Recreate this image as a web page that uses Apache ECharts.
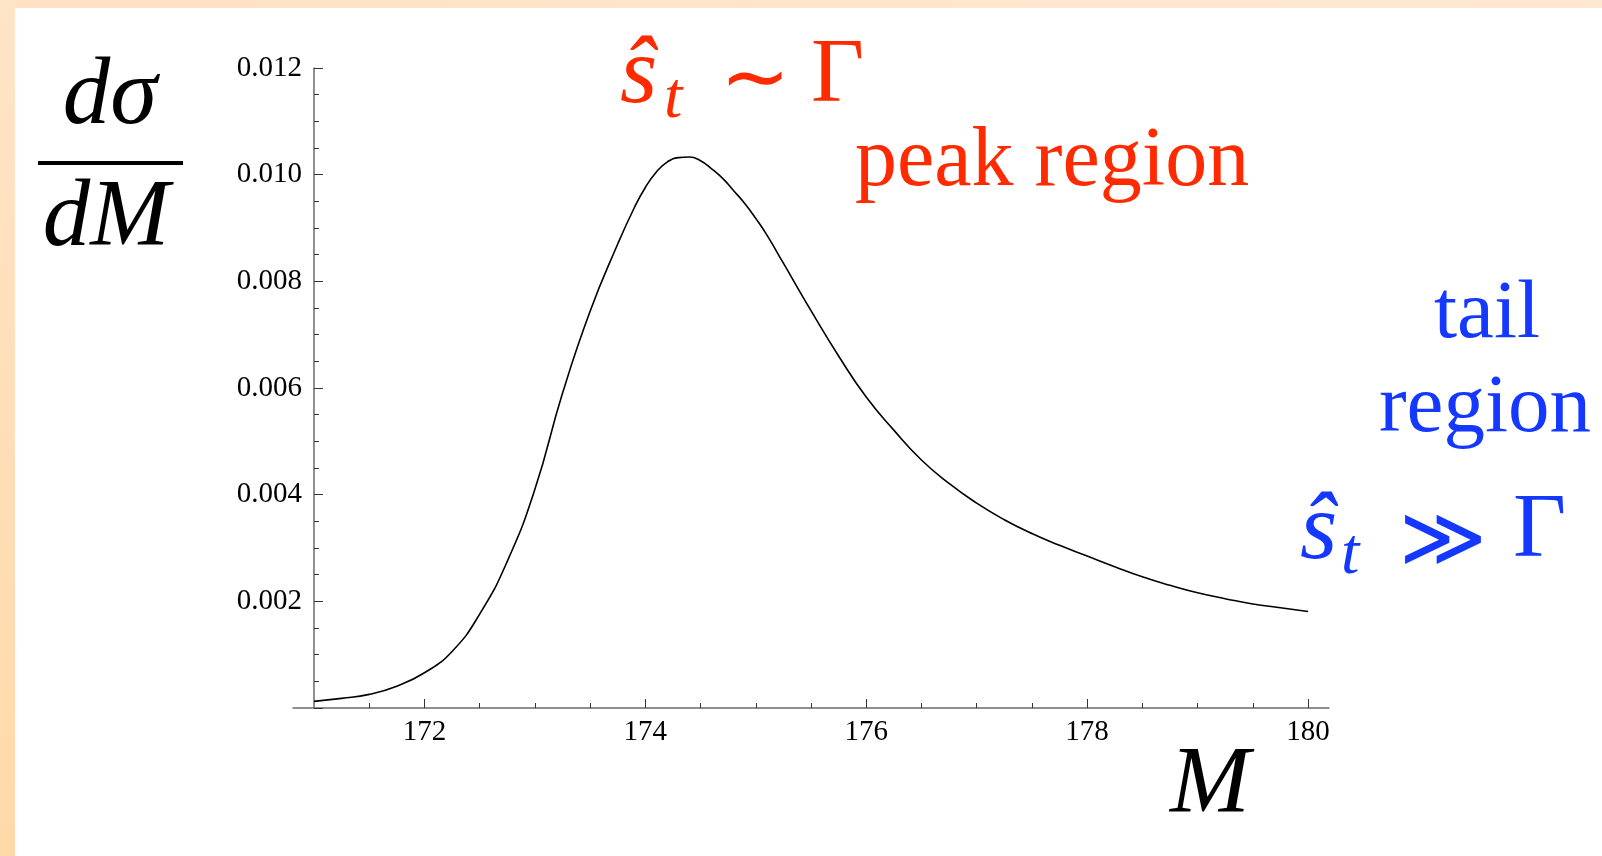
<!DOCTYPE html>
<html>
<head>
<meta charset="utf-8">
<script src="https://cdn.jsdelivr.net/npm/echarts@6/dist/echarts.min.js"></script>
<style>
  html, body { margin: 0; padding: 0; background: #ffffff; }
  #chart { width: 1602px; height: 856px; }
</style>
</head>
<body>
<div id="chart"></div>
<script>
// Invariant-mass distribution dσ/dM around the top peak
const massValues = [171, 171.25, 171.5, 171.75, 172, 172.25, 172.5, 172.75, 173, 173.25,
  173.5, 173.75, 173.9, 174, 174.1, 174.2, 174.3, 174.4, 174.5, 174.6,
  174.7, 174.8, 174.9, 175, 175.1, 175.25, 175.5, 175.75, 176, 176.25, 176.5,
  176.75, 177, 177.25, 177.5, 177.75, 178, 178.25, 178.5, 178.75, 179,
  179.25, 179.5, 179.75, 180];
const crossSection = [0.000125, 0.00018, 0.000255, 0.00041, 0.00066, 0.00106, 0.00176, 0.00275, 0.0041, 0.0059,
  0.00744, 0.0087, 0.00938, 0.00976, 0.01005, 0.01024, 0.01032, 0.01033, 0.01026, 0.01011,
  0.00993, 0.0097, 0.00946, 0.00918, 0.00887, 0.00834, 0.00745, 0.0066, 0.00583, 0.00521, 0.00465,
  0.00421, 0.00384, 0.00353, 0.00327, 0.00305, 0.00285, 0.00265, 0.00246, 0.0023, 0.00216,
  0.00205, 0.00195, 0.00188, 0.00181];

const xMajorTicks = [172, 174, 176, 178, 180];
const xMinorTicks = [171.5, 172.5, 173, 173.5, 174.5, 175, 175.5, 176.5, 177, 177.5, 178.5, 179, 179.5];
const yMin = 0, yMax = 0.012, yStep = 0.002;

const xStart = 171, xEnd = 180, xPad = 0.19;
const W = 1602, H = 856;
const grid = { left: 293, right: 273, top: 68, bottom: 148 };
const gridWidth = W - grid.left - grid.right;
// y axis sits at M = 171, inside the padded x range
const yAxisOffset = -(xPad / (xEnd - xStart + 2 * xPad)) * gridWidth;

const serif = 'Liberation Serif';
const red = '#ff2a00';
const blue = '#1438ff';
const axisGray = '#6b6b6b';

function txt(text, x, y, size, color, opts) {
  opts = opts || {};
  return {
    type: 'text', x: x, y: y, z: 10,
    style: {
      text: text, fill: color,
      fontSize: size,
      fontFamily: opts.family || serif,
      fontStyle: opts.italic ? 'italic' : 'normal',
      fontWeight: 'normal',
      align: opts.align || 'left', verticalAlign: 'middle'
    }
  };
}

const chart = echarts.init(document.getElementById('chart'), null, { renderer: 'canvas' });

chart.setOption({
  animation: false,
  backgroundColor: '#ffffff',
  grid: grid,
  xAxis: [
    {
      type: 'value', min: xStart - xPad, max: xEnd + xPad,
      position: 'bottom',
      axisLine: { show: true, onZero: true, onZeroAxisIndex: 0, lineStyle: { color: axisGray, width: 1.5 } },
      axisTick: { show: true, inside: true, length: 9, customValues: xMajorTicks, lineStyle: { color: '#333', width: 1 } },
      axisLabel: { show: true, customValues: xMajorTicks, margin: 10, color: '#000', fontFamily: serif, fontSize: 29,
        formatter: v => String(Math.round(v)) },
      splitLine: { show: false }
    },
    {
      type: 'value', min: xStart - xPad, max: xEnd + xPad,
      position: 'top',
      axisLine: { show: false, onZero: true, onZeroAxisIndex: 0 },
      axisTick: { show: true, inside: false, length: 5, customValues: xMinorTicks, lineStyle: { color: '#333', width: 1 } },
      axisLabel: { show: false },
      splitLine: { show: false }
    }
  ],
  yAxis: {
    type: 'value', min: yMin, max: yMax, interval: yStep,
    offset: yAxisOffset,
    axisLine: { show: true, onZero: false, lineStyle: { color: axisGray, width: 1.5 } },
    axisTick: { show: true, inside: true, length: 9, lineStyle: { color: '#333', width: 1 } },
    minorTick: { show: true, splitNumber: 4, length: 5, lineStyle: { color: '#333', width: 1 } },
    axisLabel: { margin: 12, color: '#000', fontFamily: serif, fontSize: 29,
      formatter: v => (v === 0 ? '' : v.toFixed(3)) },
    splitLine: { show: false },
    minorSplitLine: { show: false }
  },
  series: [{
    type: 'line',
    xAxisIndex: 0, yAxisIndex: 0,
    data: massValues.map((m, i) => [m, crossSection[i]]),
    showSymbol: false,
    smooth: 0.5,
    lineStyle: { color: '#000', width: 1.6 },
    silent: true
  }],
  graphic: [
    // peach frame bands
    { type: 'rect', z: 0, shape: { x: 0, y: 0, width: W, height: 8 },
      style: { fill: new echarts.graphic.LinearGradient(0, 0, 1, 0, [
        { offset: 0, color: '#ffe2c4' }, { offset: 1, color: '#ffe8d2' }]) } },
    { type: 'rect', z: 0, shape: { x: 0, y: 0, width: 15, height: H },
      style: { fill: new echarts.graphic.LinearGradient(0, 0, 0, 1, [
        { offset: 0, color: '#ffe4c8' }, { offset: 1, color: '#ffd9a8' }]) } },

    // vertical axis title: dσ / dM
    txt('dσ', 110, 98, 95, '#000', { italic: true, align: 'center' }),
    { type: 'rect', z: 10, shape: { x: 38, y: 161, width: 145, height: 4 }, style: { fill: '#000' } },
    txt('dM', 106, 220, 95, '#000', { italic: true, align: 'center' }),

    // horizontal axis title
    txt('M', 1170, 787, 96, '#000', { italic: true }),

    // peak region annotation
    txt('ŝ', 620, 77, 96, red, { italic: true }),
    txt('t', 664, 100, 66, red, { italic: true }),
    txt('∼', 755, 83, 84, red, { align: 'center' }),
    txt('Γ', 811, 77, 92, red),
    txt('peak region', 855, 163, 84, red),

    // tail region annotation
    txt('tail', 1487, 315, 83, blue, { align: 'center' }),
    txt('region', 1485, 409, 83, blue, { align: 'center' }),
    txt('ŝ', 1300, 533, 96, blue, { italic: true }),
    txt('t', 1341, 556, 66, blue, { italic: true }),
    txt('≫', 1443, 544, 84, blue, { align: 'center' }),
    txt('Γ', 1513, 532, 92, blue)
  ]
});
</script>
</body>
</html>
